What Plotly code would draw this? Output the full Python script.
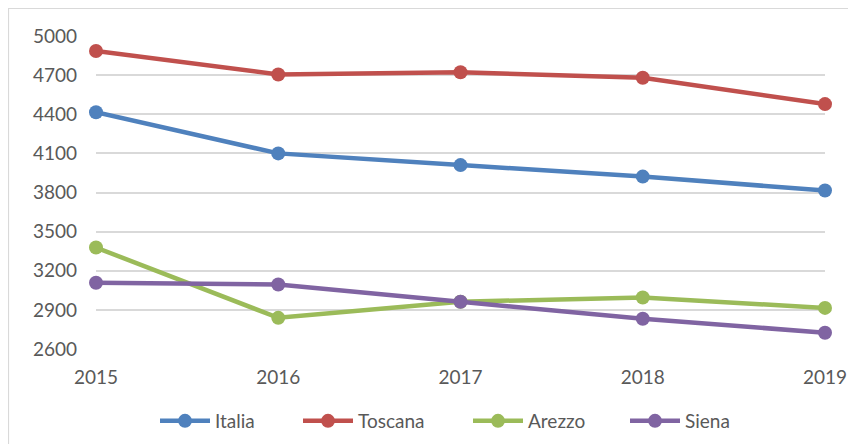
import plotly.graph_objects as go

years = [2015, 2016, 2017, 2018, 2019]
italia = [4415, 4100, 4010, 3922, 3815]
toscana = [4885, 4705, 4722, 4680, 4478]
arezzo = [3378, 2839, 2962, 2995, 2915]
siena = [3108, 3095, 2962, 2832, 2725]
y_ticks = [2600, 2900, 3200, 3500, 3800, 4100, 4400, 4700, 5000]

series = [
    ("Italia", italia, "#4F81BD"),
    ("Toscana", toscana, "#C0504D"),
    ("Arezzo", arezzo, "#9BBB59"),
    ("Siena", siena, "#8064A2"),
]

W, H = 848, 436          # page has an 8px body margin
L, R, T, B = 88, 31, 28, 95
PW, PH = W - L - R, H - T - B

font = dict(family="Lato, 'Liberation Sans', sans-serif", size=19, color="#595959")

IW = 50
text_start_px = [214, 357, 527, 684]  # page x where each legend label starts
legend_names = ["legend", "legend2", "legend3", "legend4"]

fig = go.Figure()
for (name, vals, col), lg in zip(series, legend_names):
    fig.add_trace(go.Scatter(
        x=years, y=vals, name=name, mode="lines+markers",
        line=dict(color=col, width=4.5),
        marker=dict(color=col, size=14),
        cliponaxis=False, legend=lg,
    ))

layout_legends = {}
for lg, px in zip(legend_names, text_start_px):
    layout_legends[lg] = dict(
        orientation="h", x=(px - IW - 9 - 8 - L) / PW, xanchor="left",
        y=-72 / PH, yanchor="middle", font=font, itemwidth=IW,
        bgcolor="rgba(0,0,0,0)", borderwidth=0)

fig.update_layout(
    width=W, height=H,
    margin=dict(l=L, r=R, t=T, b=B, autoexpand=False),
    paper_bgcolor="white", plot_bgcolor="white",
    font=font,
    showlegend=True,
    **layout_legends,
    xaxis=dict(range=[2015, 2019], tickvals=years, ticktext=[str(y) for y in years],
               showgrid=False, zeroline=False, showline=False, ticks="",
               ticklabelstandoff=15, tickfont=font),
    yaxis=dict(range=[2600, 5000], tickvals=y_ticks, showgrid=True,
               gridcolor="#D9D9D9", gridwidth=1.5, zeroline=False, showline=False,
               ticks="", ticklabelstandoff=18, tickfont=font),
    shapes=[dict(type="rect", xref="paper", yref="paper",
                 x0=(0.5 - L) / PW, x1=(W + 20 - L) / PW,
                 y0=(PH + T - H - 20) / PH, y1=(PH + T - 0.5) / PH,
                 line=dict(color="#D9D9D9", width=1.2), layer="below")],
)

fig.write_html("out.html")
